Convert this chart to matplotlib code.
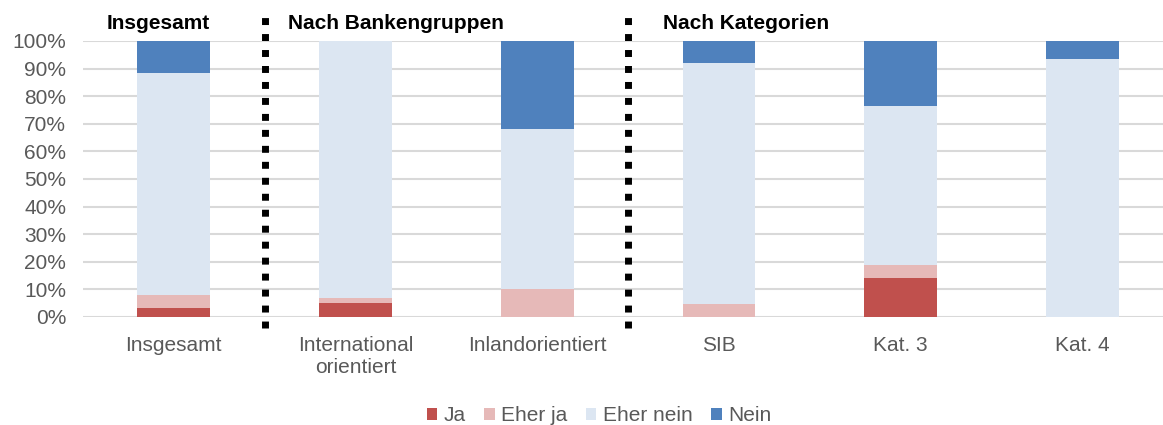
import matplotlib.pyplot as plt
import numpy as np

plt.rcParams['font.family'] = ['Liberation Sans', 'DejaVu Sans']

categories = ['Insgesamt', 'International\norientiert', 'Inlandorientiert', 'SIB', 'Kat. 3', 'Kat. 4']
series_names = ['Ja', 'Eher ja', 'Eher nein', 'Nein']
ja = [3.2, 5.1, 0.0, 0.0, 14.1, 0.0]
eher_ja = [4.8, 1.8, 10.0, 4.7, 4.9, 0.0]
eher_nein = [80.5, 93.1, 58.0, 87.4, 57.5, 93.3]
nein = [11.5, 0.0, 32.0, 7.9, 23.5, 6.7]
group_titles = ['Insgesamt', 'Nach Bankengruppen', 'Nach Kategorien']
title_pos = [-0.37, 0.63, 2.69]
separators = [0.5, 2.5]

colors = ['#C0504D', '#E6B9B8', '#DCE6F2', '#4F81BD']
grey = '#595959'

fig = plt.figure(figsize=(11.63, 4.25), dpi=100)
ax = fig.add_axes([83 / 1163, 108 / 425, 1090 / 1163, 276 / 425])

x = np.arange(len(categories))
bottom = np.zeros(len(categories))
for name, vals, c in zip(series_names, [ja, eher_ja, eher_nein, nein], colors):
    ax.bar(x, vals, width=0.4, bottom=bottom, color=c, label=name, zorder=3, linewidth=0)
    bottom += np.array(vals)

ax.set_xlim(-0.5, 5.5)
ax.set_ylim(0, 100)
ax.set_yticks(range(0, 101, 10))
ax.set_yticklabels([f'{v}%' for v in range(0, 101, 10)])
ax.set_xticks(x)
ax.set_xticklabels(categories, linespacing=1.15)
ax.tick_params(axis='both', length=0, labelsize=15, colors=grey)
ax.tick_params(axis='x', pad=14)
ax.tick_params(axis='y', pad=12)
ax.grid(axis='y', color='#D9D9D9', linewidth=1.5, zorder=0)
for s in ax.spines.values():
    s.set_visible(False)

# dotted separators between groups
for sx in separators:
    ax.plot([sx, sx], [-4, 110], color='black', linewidth=5, linestyle=(0, (1.0, 1.3)),
            solid_capstyle='butt', dash_capstyle='butt', clip_on=False, zorder=5)

for t, px in zip(group_titles, title_pos):
    ax.text(px, 106.5, t, fontsize=15, fontweight='bold', ha='left', va='center', color='black')

fig.legend(loc='lower center', bbox_to_anchor=(0.515, -0.045), ncol=4, frameon=False,
           fontsize=15, handlelength=0.5, handleheight=0.5, handletextpad=0.3,
           columnspacing=0.9, labelcolor=grey)

fig.savefig('out.png', dpi=100)
